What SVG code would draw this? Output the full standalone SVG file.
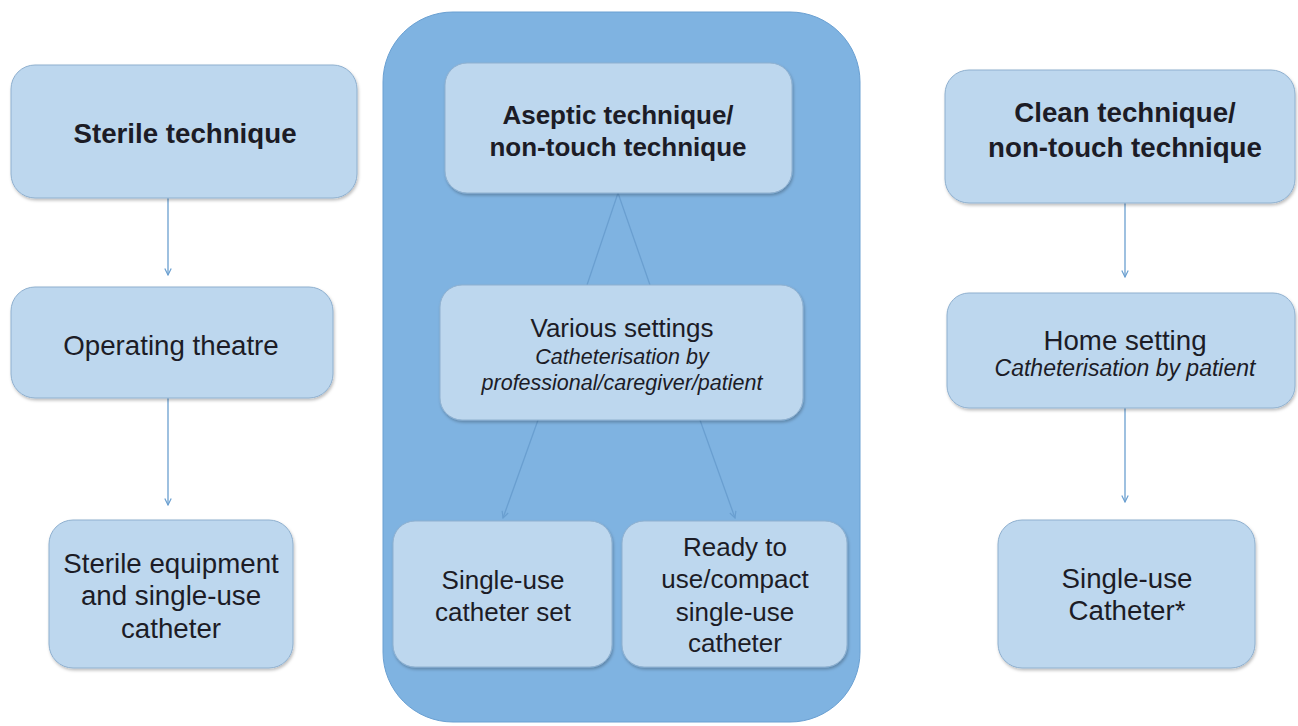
<svg xmlns="http://www.w3.org/2000/svg" width="1298" height="726" viewBox="0 0 1298 726">
<defs>
<filter id="sh" x="-10%" y="-10%" width="120%" height="125%">
<feDropShadow dx="1" dy="2" stdDeviation="1.5" flood-color="#000" flood-opacity="0.25"/>
</filter>
<marker id="ah" viewBox="0 0 10 10" refX="9" refY="5" markerWidth="8" markerHeight="8" orient="auto" markerUnits="userSpaceOnUse">
<path d="M1,1 L9,5 L1,9" fill="none" stroke="#6a9fd0" stroke-width="1.5"/>
</marker>
<style>
.box{fill:#bdd7ee;stroke:#8fb0cf;stroke-width:1;filter:url(#sh)}
.t{font-family:"Liberation Sans",Arial,sans-serif;fill:#1c1c26;text-anchor:middle;font-size:26px}
.L{font-size:27.7px}
.b{font-weight:bold}
.i{font-style:italic;font-size:21.5px}
.Li{font-style:italic;font-size:23px}
.c{stroke:#6a9fd0;stroke-width:1.3;fill:none}
</style>
</defs>
<rect width="1298" height="726" fill="#fff"/>
<g id="container">
<rect x="383" y="12" width="477" height="710" rx="70" ry="70" fill="#7fb3e1" stroke="#6aa0d2" stroke-width="1"/>
</g>
<g id="connectors">
<line class="c" x1="168" y1="198" x2="168" y2="275" marker-end="url(#ah)"/>
<line class="c" x1="168" y1="398" x2="168" y2="505" marker-end="url(#ah)"/>
<line class="c" x1="1125" y1="203" x2="1125" y2="277" marker-end="url(#ah)"/>
<line class="c" x1="1125" y1="408" x2="1125" y2="502" marker-end="url(#ah)"/>
<polyline class="c" points="587,285 618,193 650,285"/>
<line class="c" x1="538" y1="420" x2="503" y2="518" marker-end="url(#ah)"/>
<line class="c" x1="700" y1="420" x2="735" y2="518" marker-end="url(#ah)"/>
</g>
<g id="sterile-technique">
<rect class="box" x="11" y="65" width="346" height="133" rx="24"/>
<text class="t L b" x="185" y="143">Sterile technique</text>
</g>
<g id="operating-theatre">
<rect class="box" x="11" y="287" width="322" height="111" rx="24"/>
<text class="t L" x="171" y="355">Operating theatre</text>
</g>
<g id="sterile-equipment">
<rect class="box" x="49" y="520" width="244" height="148" rx="24"/>
<text class="t L" x="171" y="573">Sterile equipment</text>
<text class="t L" x="171" y="605">and single-use</text>
<text class="t L" x="171" y="638">catheter</text>
</g>
<g id="aseptic-technique">
<rect class="box" x="445" y="63" width="347" height="130" rx="22"/>
<text class="t b" x="618" y="124">Aseptic technique/</text>
<text class="t b" x="618" y="156">non-touch technique</text>
</g>
<g id="various-settings">
<rect class="box" x="440" y="285" width="363" height="135" rx="22"/>
<text class="t" x="622" y="337">Various settings</text>
<text class="t i" x="622" y="364">Catheterisation by</text>
<text class="t i" x="622" y="390">professional/caregiver/patient</text>
</g>
<g id="single-use-set">
<rect class="box" x="393" y="521" width="219" height="146" rx="22"/>
<text class="t" x="503" y="589">Single-use</text>
<text class="t" x="503" y="621">catheter set</text>
</g>
<g id="ready-to-use">
<rect class="box" x="622" y="521" width="225" height="146" rx="22"/>
<text class="t" x="735" y="556">Ready to</text>
<text class="t" x="735" y="588">use/compact</text>
<text class="t" x="735" y="621">single-use</text>
<text class="t" x="735" y="652">catheter</text>
</g>
<g id="clean-technique">
<rect class="box" x="945" y="70" width="350" height="133" rx="24"/>
<text class="t L b" x="1125" y="122">Clean technique/</text>
<text class="t L b" x="1125" y="157">non-touch technique</text>
</g>
<g id="home-setting">
<rect class="box" x="947" y="293" width="348" height="115" rx="22"/>
<text class="t L" x="1125" y="350">Home setting</text>
<text class="t Li" x="1125" y="376">Catheterisation by patient</text>
</g>
<g id="single-use-catheter">
<rect class="box" x="998" y="520" width="257" height="148" rx="24"/>
<text class="t L" x="1127" y="588">Single-use</text>
<text class="t L" x="1127" y="620">Catheter*</text>
</g>
</svg>
